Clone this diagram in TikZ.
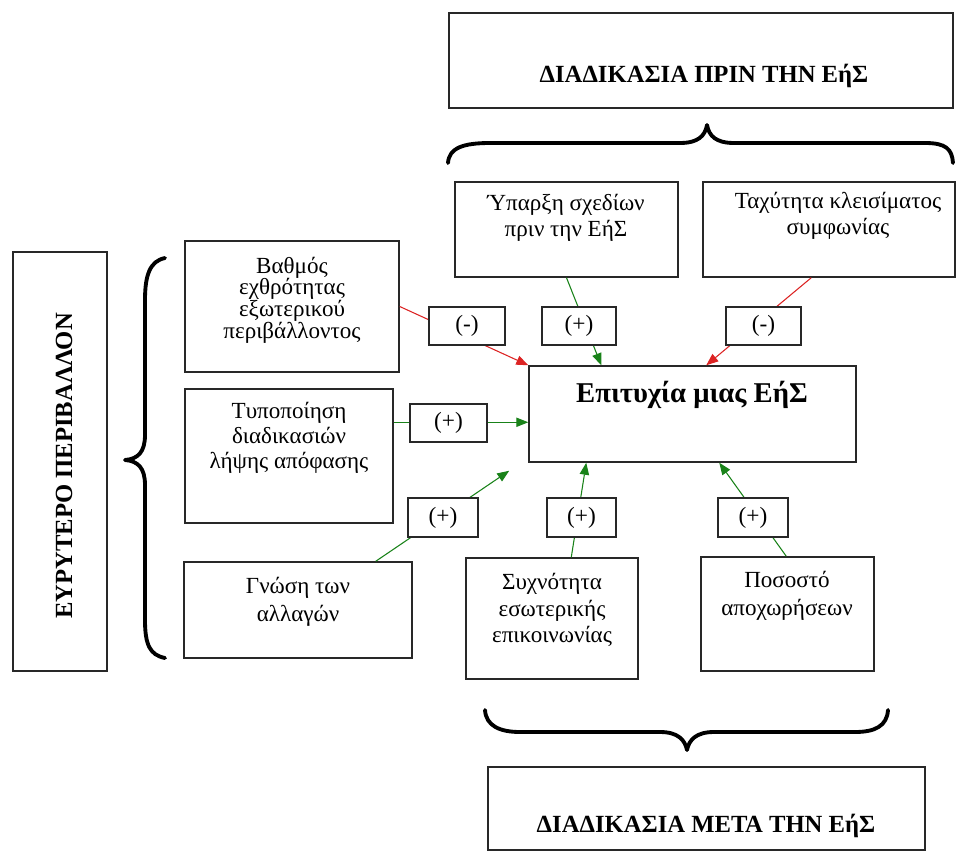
\documentclass[tikz,border=0pt]{standalone}
\usepackage{fontspec}
\setmainfont{Liberation Serif}
\usetikzlibrary{arrows.meta,calc,fit}
\definecolor{myred}{RGB}{220,35,35}
\definecolor{mygreen}{RGB}{25,130,25}
\definecolor{edge}{RGB}{40,40,40}
\begin{document}
\begin{tikzpicture}[x=0.75pt,y=-0.75pt,
  box/.style={draw=edge,line width=1.1pt,inner sep=0pt,fill=white},
  signlbl/.style={inner sep=0pt,font=\fontsize{17.5}{20}\selectfont},
  txt/.style={align=center,inner sep=0pt,font=\fontsize{17.3}{19.5}\selectfont},
  head/.style={inner sep=0pt,font=\fontsize{18.5}{22}\selectfont\bfseries},
  brace/.style={line width=2.9pt,line cap=round,line join=round},
  posarrow/.style={draw=mygreen,line width=0.8pt,-{Triangle[length=9pt,width=7pt]}},
  negarrow/.style={draw=myred,line width=0.8pt,-{Triangle[length=9pt,width=7pt]}}]
\useasboundingbox (0,0) rectangle (957,856);

% big boxes
\node[box,fit={(449,13) (953,108)}] (prin) {};
\node[box,fit={(488,767) (925,850)}] (meta) {};
\node[box,fit={(13,252) (107,671)}] (evr) {};
\node[box,fit={(455,182) (678,277)}] (ypar) {};
\node[box,fit={(703,182) (955,277)}] (tax) {};
\node[box,fit={(185,241) (399,372)}] (vathmos) {};
\node[box,fit={(185,389) (393,523)}] (typo) {};
\node[box,fit={(184,562) (412,658)}] (gnosi) {};
\node[box,fit={(529,366) (856,462)}] (epit) {};
\node[box,fit={(466,558) (638,679)}] (sychn) {};
\node[box,fit={(701,557) (874,671)}] (posos) {};

% texts
\node[head] (prin-t) at (704,76) {ΔΙΑΔΙΚΑΣΙΑ ΠΡΙΝ ΤΗΝ ΕήΣ};
\node[head] (meta-t) at (706,826) {ΔΙΑΔΙΚΑΣΙΑ ΜΕΤΑ ΤΗΝ ΕήΣ};
\node[head,rotate=90] (evr-t) at (64,466) {ΕΥΡΥΤΕΡΟ ΠΕΡΙΒΑΛΛΟΝ};
\node[txt] (ypar-t) at (566,218) {Ύπαρξη σχεδίων\\πριν την ΕήΣ};
\node[txt] (tax-t) at (838,216) {Ταχύτητα κλεισίματος\\συμφωνίας};
\node[txt,font=\fontsize{17.3}{16.3}\selectfont] (vathmos-t) at (292,300) {Βαθμός\\εχθρότητας\\εξωτερικού\\περιβάλλοντος};
\node[txt,font=\fontsize{17.3}{18.8}\selectfont] (typo-t) at (289,438) {Τυποποίηση\\διαδικασιών\\λήψης απόφασης};
\node[txt,font=\fontsize{17.3}{21}\selectfont] (gnosi-t) at (298,602) {Γνώση των\\αλλαγών};
\node[txt,font=\fontsize{17.3}{20}\selectfont] (sychn-t) at (552,610) {Συχνότητα\\εσωτερικής\\επικοινωνίας};
\node[txt,font=\fontsize{17.3}{21}\selectfont] (posos-t) at (787,596) {Ποσοστό\\αποχωρήσεων};
\node[inner sep=0pt,font=\fontsize{21.5}{24}\selectfont\bfseries] (epit-t) at (692,395) {Επιτυχία μιας ΕήΣ};

% connectors
\draw[negarrow] (vathmos.east) -- (epit.north west);
\draw[posarrow] (ypar.south) -- ($(epit.north west)+(73,0)$);
\draw[negarrow] ($(tax.south west)+(109,0)$) -- ($(epit.north west)+(178,0)$);
\draw[posarrow] ($(typo.north east)+(0,34)$) -- ($(epit.north west)+(0,57)$);
\draw[posarrow] ($(gnosi.north east)+(-37,0)$) -- ($(epit.south west)+(-19,8)$);
\draw[posarrow] ($(sychn.north west)+(106,0)$) -- ($(epit.south west)+(58,0)$);
\draw[posarrow] ($(posos.north west)+(86,0)$) -- ($(epit.south west)+(191,0)$);

% sign boxes
\node[box,fit={(429,307) (505,345)},label={[signlbl]center:(-)}] (s1) {};
\node[box,fit={(542,307) (616,345)},label={[signlbl]center:(+)}] (s2) {};
\node[box,fit={(726,307) (801,345)},label={[signlbl]center:(-)}] (s3) {};
\node[box,fit={(410,404) (487,442)},label={[signlbl]center:(+)}] (s4) {};
\node[box,fit={(408,498) (478,537)},label={[signlbl]center:(+)}] (s5) {};
\node[box,fit={(547,498) (616,537)},label={[signlbl]center:(+)}] (s6) {};
\node[box,fit={(718,498) (788,537)},label={[signlbl]center:(+)}] (s7) {};

% braces
\draw[brace] (448,163) .. controls (449,148) and (463,143) .. (490,143) -- (680,143)
  .. controls (698,143) and (705,136) .. (707,125)
  .. controls (709,136) and (716,143) .. (734,143) -- (925,143)
  .. controls (946,143) and (952,149) .. (953,163);
\draw[brace] (485,710) .. controls (486,726) and (500,732) .. (520,732) -- (660,732)
  .. controls (678,732) and (685,740) .. (687,750)
  .. controls (689,740) and (696,732) .. (714,732) -- (855,732)
  .. controls (875,732) and (887,726) .. (888,710);
\draw[brace] (165,258) .. controls (150,261) and (145,275) .. (145,300) -- (145,435)
  .. controls (145,452) and (138,459) .. (125,460)
  .. controls (138,461) and (145,468) .. (145,485) -- (145,620)
  .. controls (145,645) and (150,655) .. (165,658);
\end{tikzpicture}
\end{document}
